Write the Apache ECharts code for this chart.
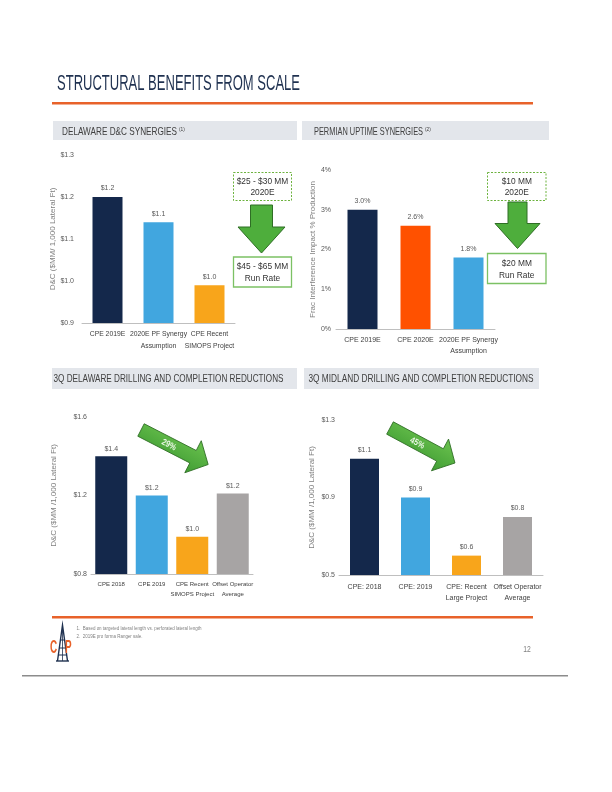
<!DOCTYPE html>
<html>
<head>
<meta charset="utf-8">
<script src="https://cdn.jsdelivr.net/npm/echarts@6/dist/echarts.min.js"></script>
<style>
html,body{margin:0;padding:0;background:#fff;}
#chart{width:612px;height:792px;}
</style>
</head>
<body>
<div id="chart"></div>
<script>
// ---------- DATA ----------
const cats1 = ['CPE 2019E', '2020E PF Synergy\nAssumption', 'CPE Recent\nSIMOPS Project'];
const vals1 = [1.2, 1.14, 0.99];
const ticks1 = [0.9, 1.0, 1.1, 1.2, 1.3];

const cats2 = ['CPE 2019E', 'CPE 2020E', '2020E PF Synergy\nAssumption'];
const vals2 = [3.0, 2.6, 1.8];
const ticks2 = [0, 1, 2, 3, 4];

const cats3 = ['CPE 2018', 'CPE 2019', 'CPE Recent\nSIMOPS Project', 'Offset Operator\nAverage'];
const vals3 = [1.4, 1.2, 0.99, 1.21];
const ticks3 = [0.8, 1.2, 1.6];

const cats4 = ['CPE: 2018', 'CPE: 2019', 'CPE: Recent\nLarge Project', 'Offset Operator\nAverage'];
const vals4 = [1.1, 0.9, 0.6, 0.8];
const ticks4 = [0.5, 0.9, 1.3];

// ---------- STYLES ----------
const colors1 = ['#14284B', '#41A6DF', '#F8A51B'];
const colors2 = ['#14284B', '#FF5100', '#41A6DF'];
const colors3 = ['#14284B', '#41A6DF', '#F8A51B', '#A7A4A4'];
const colors4 = ['#14284B', '#41A6DF', '#F8A51B', '#A7A4A4'];

// ---------- FONT HELPERS ----------
const mctx = document.createElement('canvas').getContext('2d');
function hasFont(name) {
  const s = 'abcdefghijklmnopqrstuvwxyz0123456789';
  mctx.font = '40px monospace';
  const a = mctx.measureText(s).width;
  mctx.font = '40px "' + name + '", monospace';
  const b = mctx.measureText(s).width;
  return Math.abs(a - b) > 0.5;
}
const HAS_NARROW = hasFont('Liberation Sans Narrow');
const NARROW = HAS_NARROW ? 'Liberation Sans Narrow' : 'Liberation Sans';
const LBL = HAS_NARROW ? 8 : 7;
const SANS = 'Liberation Sans';
function measure(text, size, weight) {
  mctx.font = (weight || 'normal') + ' ' + size + 'px "' + SANS + '"';
  return mctx.measureText(text).width;
}
function T(text, x, y, size, o) {
  o = o || {};
  const w = measure(text, size, o.weight);
  const sx = o.targetW ? o.targetW / w : (o.scale || 1);
  const align = o.align || 'left', va = o.va || 'middle';
  return {
    type: 'text', x: x, y: y, scaleX: sx, z: o.z || 10,
    style: {
      text: text, fontSize: size, fontFamily: SANS, fontWeight: o.weight || 'normal',
      fill: o.fill || '#404040', align: align, verticalAlign: va,
      textAlign: align, textVerticalAlign: va
    }
  };
}

// ---------- CHART LAYOUT ----------
const grids = [
  {left: 82, top: 155, width: 153, height: 168},
  {left: 336, top: 170, width: 159, height: 159},
  {left: 91, top: 417, width: 162, height: 157},
  {left: 339, top: 420, width: 204, height: 155}
];
const dollar = v => '$' + Number(v).toFixed(1);
const pctAxis = v => Math.round(v) + '%';
const pctVal = v => Number(v).toFixed(1) + '%';

const charts = [
  {cats: cats1, vals: vals1, ticks: ticks1, colors: colors1, axisFmt: dollar, valFmt: dollar,
   name: 'D&C ($MM/ 1,000 Lateral Ft)', nameGap: 18, yMargin: 8, barWidth: 30, lblMargin: 5, lh: 12, dist: 5, cSize: HAS_NARROW ? 8 : 6.8},
  {cats: cats2, vals: vals2, ticks: ticks2, colors: colors2, axisFmt: pctAxis, valFmt: pctVal,
   name: 'Frac Interference Impact % Production', nameGap: 17, yMargin: 5, barWidth: 30, lblMargin: 6, lh: 11, dist: 5, cSize: HAS_NARROW ? 8 : 7},
  {cats: cats3, vals: vals3, ticks: ticks3, colors: colors3, axisFmt: dollar, valFmt: dollar,
   name: 'D&C ($MM /1,000 Lateral Ft)', nameGap: 33, yMargin: 4, barWidth: 32, lblMargin: 5, lh: 10, dist: 4, cSize: HAS_NARROW ? 7.5 : 6},
  {cats: cats4, vals: vals4, ticks: ticks4, colors: colors4, axisFmt: dollar, valFmt: dollar,
   name: 'D&C ($MM /1,000 Lateral Ft)', nameGap: 23, yMargin: 4, barWidth: 29, lblMargin: 7, lh: 10.5, dist: 5, cSize: HAS_NARROW ? 8 : 7}
];

const xAxis = [], yAxis = [], series = [];
charts.forEach((c, i) => {
  xAxis.push({
    type: 'category', gridIndex: i, data: c.cats,
    axisLine: {lineStyle: {color: '#BFBFBF', width: 1}},
    axisTick: {show: false},
    axisLabel: {interval: 0, fontSize: c.cSize, color: '#404040', fontFamily: NARROW,
      margin: c.lblMargin, lineHeight: c.lh}
  });
  yAxis.push({
    type: 'value', gridIndex: i,
    min: c.ticks[0], max: c.ticks[c.ticks.length - 1], interval: c.ticks[1] - c.ticks[0],
    splitLine: {show: false}, axisLine: {show: false}, axisTick: {show: false},
    axisLabel: {formatter: c.axisFmt, fontSize: LBL, color: '#595959', fontFamily: NARROW, margin: c.yMargin},
    name: c.name, nameLocation: 'middle', nameRotate: 90, nameGap: c.nameGap,
    nameTextStyle: {fontSize: 8, color: '#7F7F7F', fontFamily: SANS}
  });
  series.push({
    type: 'bar', xAxisIndex: i, yAxisIndex: i, barWidth: c.barWidth, clip: true,
    data: c.vals.map((v, j) => ({value: v, itemStyle: {color: c.colors[j]}})),
    label: {show: true, position: 'top', distance: c.dist, formatter: p => c.valFmt(p.value),
      fontSize: LBL, color: '#595959', fontFamily: NARROW}
  });
});

// ---------- DECORATIONS ----------
const G = [];
// title + rules
G.push(T('STRUCTURAL BENEFITS FROM SCALE', 57, 84, 22, {targetW: 243, fill: '#1F3150'}));
G.push({type: 'rect', shape: {x: 52, y: 102, width: 481, height: 2.5}, style: {fill: '#E8622A'}});
// section headers
const hdrFill = '#E3E6EB';
G.push({type: 'rect', shape: {x: 53, y: 121, width: 244, height: 19}, style: {fill: hdrFill}});
G.push({type: 'rect', shape: {x: 302, y: 121, width: 247, height: 19}, style: {fill: hdrFill}});
G.push({type: 'rect', shape: {x: 52, y: 368, width: 245, height: 21}, style: {fill: hdrFill}});
G.push({type: 'rect', shape: {x: 304, y: 368, width: 235, height: 21}, style: {fill: hdrFill}});
G.push(T('DELAWARE D&C SYNERGIES', 62, 131.5, 11, {targetW: 115}));
G.push(T('(1)', 179, 129, 6, {scale: 0.8}));
G.push(T('PERMIAN UPTIME SYNERGIES', 314, 131.5, 11, {targetW: 109}));
G.push(T('(2)', 425, 129, 6, {scale: 0.8}));
G.push(T('3Q DELAWARE DRILLING AND COMPLETION REDUCTIONS', 53.5, 378.5, 11, {targetW: 230}));
G.push(T('3Q MIDLAND DRILLING AND COMPLETION REDUCTIONS', 308.5, 378.5, 11, {targetW: 225}));

// top annotation boxes and down arrows
const boxScale = 51.6 / measure('$25 - $30 MM', 9.5);
function annBox(x, y, w, h, dashed, l1, l2, y1, y2) {
  G.push({type: 'rect', shape: {x: x, y: y, width: w, height: h}, z: 9,
    style: {fill: '#fff', stroke: dashed ? '#6DB33F' : '#7CC164', lineWidth: dashed ? 1 : 1.3,
      lineDash: dashed ? [2, 1.5] : null}});
  G.push(T(l1, x + w / 2, y1, 9.5, {align: 'center', scale: boxScale, fill: '#333333'}));
  G.push(T(l2, x + w / 2, y2, 9.5, {align: 'center', scale: boxScale, fill: '#333333'}));
}
annBox(233.5, 172.5, 58, 28, true, '$25 - $30 MM', '2020E', 181.5, 192);
annBox(233.5, 257, 58, 30, false, '$45 - $65 MM', 'Run Rate', 266, 278.5);
annBox(487.5, 172.5, 58.5, 28, true, '$10 MM', '2020E', 181.5, 192);
annBox(487.5, 253.5, 58.5, 30, false, '$20 MM', 'Run Rate', 263.5, 275.5);

function downArrow(cx, top, stemW, barbY, headW, tipY) {
  G.push({type: 'polygon', z: 9,
    shape: {points: [[cx - stemW / 2, top], [cx + stemW / 2, top], [cx + stemW / 2, barbY],
      [cx + headW / 2, barbY], [cx, tipY], [cx - headW / 2, barbY], [cx - stemW / 2, barbY]]},
    style: {fill: '#4EAE3C', stroke: '#2F6E25', lineWidth: 1}});
}
downArrow(261.5, 205, 22, 227, 47, 253);
downArrow(517.5, 202, 19, 223.5, 45, 248.5);

// diagonal arrows with % text
function diagArrow(x, y, angleDeg, L, txt) {
  const hb = 7, hl = 17, hw = 18;
  G.push({
    type: 'group', x: x, y: y, rotation: -angleDeg * Math.PI / 180, z: 9,
    children: [
      {type: 'polygon',
       shape: {points: [[0, -hb], [L - hl, -hb], [L - hl, -hw], [L, 0], [L - hl, hw], [L - hl, hb], [0, hb]]},
       style: {fill: {type: 'linear', x: 0, y: 0, x2: 0, y2: 1,
         colorStops: [{offset: 0, color: '#6CC34F'}, {offset: 1, color: '#3F9C33'}]},
         stroke: '#2F6E25', lineWidth: 0.8}},
      Object.assign(T(txt, L * 0.42, 0.5, 9, {align: 'center', weight: 'bold', fill: '#EAF6E4', scale: 0.85}), {z: 10})
    ]
  });
}
diagArrow(141, 430, 27.2, 75.5, '29%');
diagArrow(390, 428, 28.3, 73.8, '45%');

// footer
G.push({type: 'rect', shape: {x: 52, y: 616, width: 481, height: 2.5}, style: {fill: '#E8622A'}});
G.push(T('1.  Based on targeted lateral length vs. perforated lateral length', 76.5, 628.3, 5.5, {targetW: 125, fill: '#7F7F7F'}));
G.push(T('2.  2019E pro forma Ranger sale.', 76.5, 636, 5.5, {targetW: 66, fill: '#7F7F7F'}));
G.push(T('12', 527, 650, 8.5, {align: 'center', scale: 0.8, fill: '#7F7F7F'}));
G.push({type: 'rect', shape: {x: 22, y: 675, width: 546, height: 1.5}, style: {fill: '#8C8C8C'}});

// logo
const navy = '#1F3150';
G.push({type: 'polyline', shape: {points: [[57.5, 661], [62.5, 625], [67.5, 661]]}, style: {stroke: navy, lineWidth: 1.4, fill: null}});
G.push({type: 'polyline', shape: {points: [[62.5, 625], [62.5, 661]]}, style: {stroke: navy, lineWidth: 0.8, fill: null}});
[632, 640, 648, 655].forEach(yy => {
  const hw = (yy - 625) * 5 / 36;
  G.push({type: 'line', shape: {x1: 62.5 - hw, y1: yy, x2: 62.5 + hw, y2: yy}, style: {stroke: navy, lineWidth: 1}});
});
G.push({type: 'line', shape: {x1: 56, y1: 661, x2: 69, y2: 661}, style: {stroke: navy, lineWidth: 1.4}});
G.push(T('C', 50, 648.5, 18, {weight: 'bold', fill: '#E8622A', scale: 0.55}));
G.push(T('P', 65, 648.5, 18, {weight: 'bold', fill: '#E8622A', scale: 0.55}));

const chart = echarts.init(document.getElementById('chart'), null, {renderer: 'canvas'});
chart.setOption({
  animation: false,
  backgroundColor: '#ffffff',
  grid: grids,
  xAxis: xAxis,
  yAxis: yAxis,
  series: series,
  graphic: {elements: G}
});
</script>
</body>
</html>
